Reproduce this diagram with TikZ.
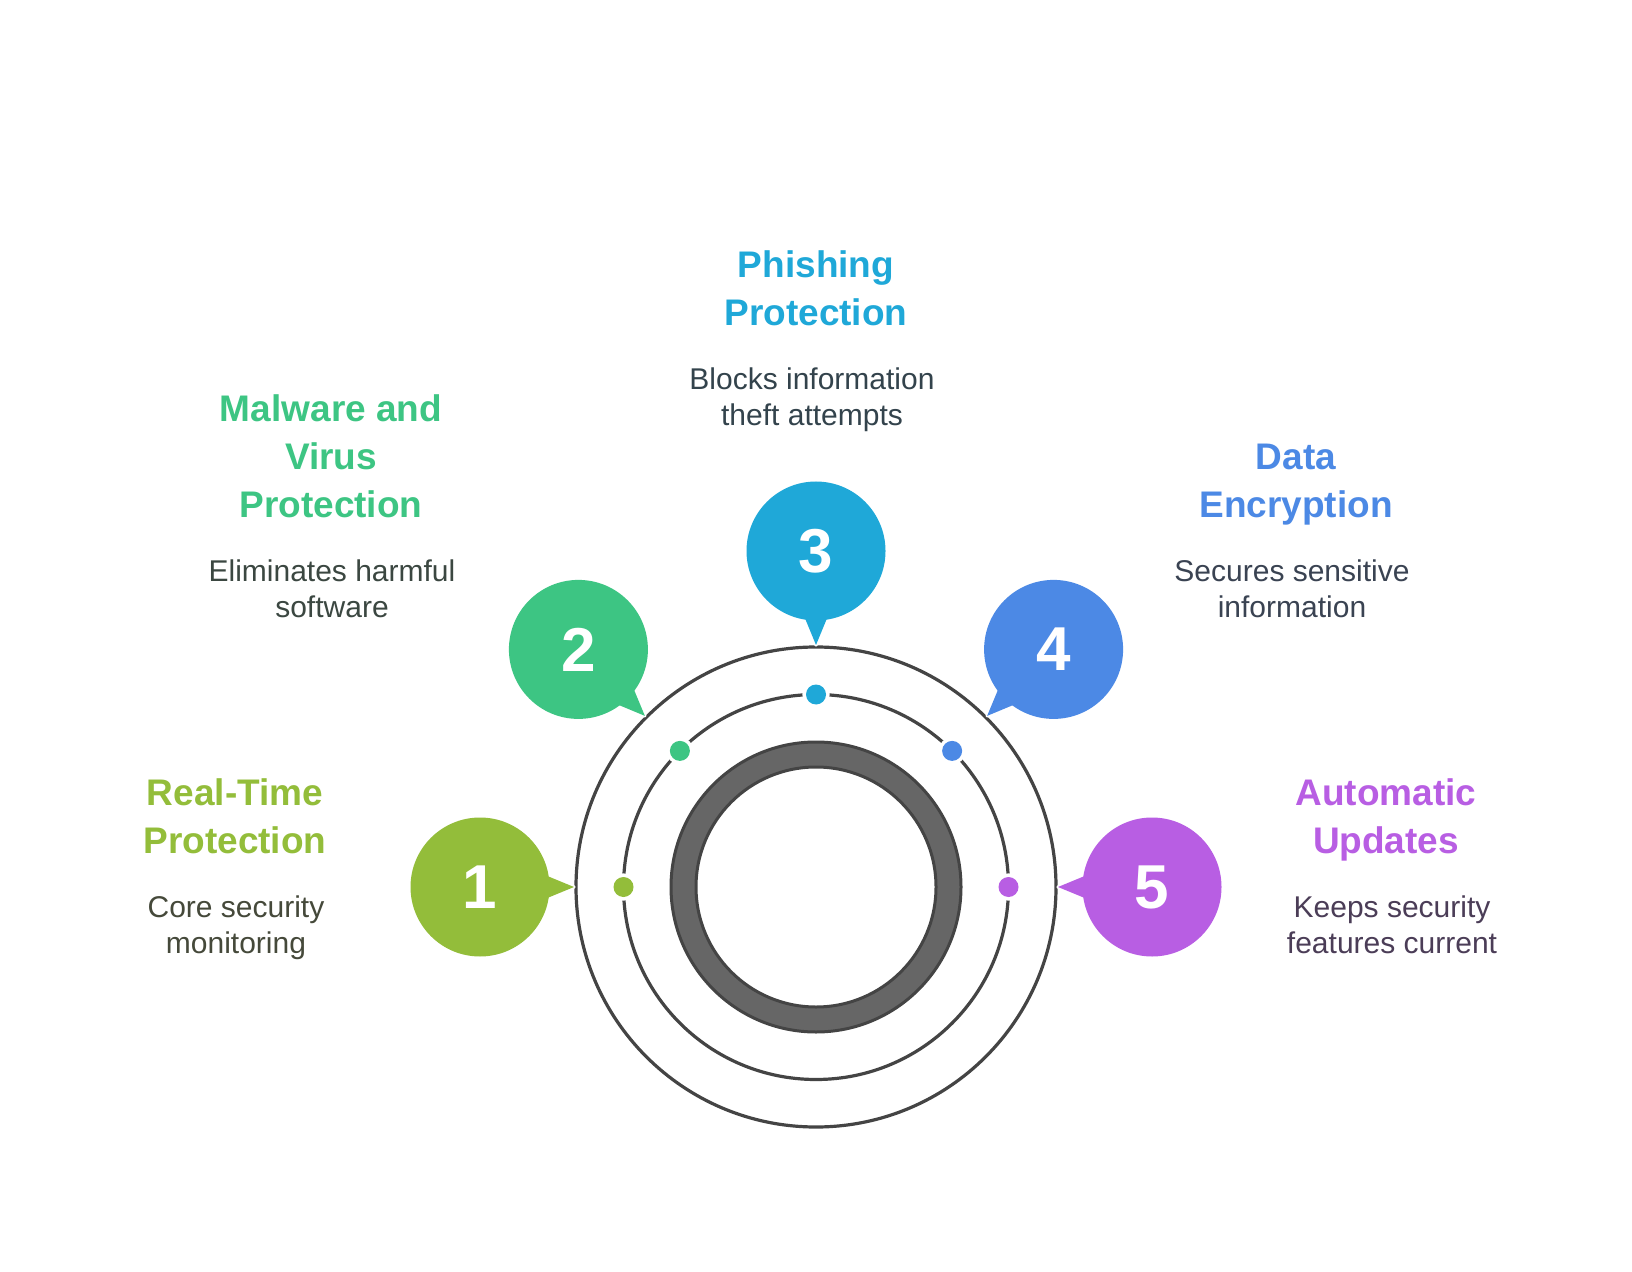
\documentclass[tikz,border=0pt]{standalone}
\usepackage{fontspec}
\setmainfont{Liberation Sans}
\usetikzlibrary{calc}
\definecolor{c1}{HTML}{93BD3A}
\definecolor{c2}{HTML}{3DC583}
\definecolor{c3}{HTML}{1FA8D8}
\definecolor{c4}{HTML}{4C89E5}
\definecolor{c5}{HTML}{B85EE3}
\definecolor{d1}{HTML}{45493A}
\definecolor{d2}{HTML}{3B4741}
\definecolor{d3}{HTML}{33434C}
\definecolor{d4}{HTML}{3A4352}
\definecolor{d5}{HTML}{4B3D57}
\definecolor{ringline}{HTML}{444444}
\definecolor{ringfill}{HTML}{666666}
\tikzset{
  titletext/.style={align=center,font=\fontsize{18.5pt}{24pt}\selectfont\bfseries,inner sep=0pt},
  desctext/.style={align=center,font=\fontsize{15pt}{18pt}\selectfont,inner sep=0pt},
  numtext/.style={text=white,font=\fontsize{31pt}{31pt}\selectfont\bfseries,inner sep=0pt},
  orbit/.style={draw=ringline,line width=1.6pt},
}
\begin{document}
\begin{tikzpicture}[x=0.5pt,y=-0.5pt]
\useasboundingbox[fill=white] (0,0) rectangle (1632,1272);
\coordinate (C) at (816,887);
% circles
\draw[orbit] (C) circle[radius=120pt];
\draw[orbit] (C) circle[radius=96.25pt];
\draw[draw=ringline,fill=ringfill,line width=1.5pt,even odd rule] (C) circle[radius=72.5pt] (C) circle[radius=60pt];
% dots and bubbles
\foreach \n/\phi/\col in {1/180/c1,2/135/c2,3/90/c3,4/45/c4,5/0/c5}{
  \coordinate (dot\n) at ($(C)+(-\phi:192.5)$);
  \fill[white] (dot\n) circle[radius=6.8pt];
  \fill[\col] (dot\n) circle[radius=5pt];
  \coordinate (tip\n) at ($(C)+(-\phi:242)$);
  \coordinate (bl\n) at ($(C)+(-\phi:276)+(-\phi+90:14)$);
  \coordinate (br\n) at ($(C)+(-\phi:276)+(-\phi-90:14)$);
  \coordinate (bc\n) at ($(C)+(-\phi:336)$);
  \draw[white,line width=1.6pt,line join=round] (bc\n) circle[radius=34.75pt];
  \draw[white,line width=1.6pt,line join=round] (tip\n) -- (bl\n) -- (br\n) -- cycle;
  \fill[\col] (bc\n) circle[radius=34.75pt];
  \fill[\col] (tip\n) -- (bl\n) -- (br\n) -- cycle;
  \node[numtext] (num\n) at (bc\n) {\n};
}
% titles and descriptions
\node[titletext,text=c1] (t1) at (235,816.5) {Real-Time\\Protection};
\node[desctext,text=d1] (s1) at (236,928) {Core security\\monitoring};
\node[titletext,text=c2] (t2) at (331,456) {Malware and\\Virus\\Protection};
\node[desctext,text=d2] (s2) at (332,588.5) {Eliminates harmful\\software};
\node[titletext,text=c3] (t3) at (816,288) {Phishing\\Protection};
\node[desctext,text=d3] (s3) at (812,399.5) {Blocks information\\theft attempts};
\node[titletext,text=c4] (t4) at (1296,485) {Data\\Encryption};
\node[desctext,text=d4] (s4) at (1292,588.5) {Secures sensitive\\information};
\node[titletext,text=c5] (t5) at (1386,819.5) {Automatic\\Updates};
\node[desctext,text=d5] (s5) at (1392,925) {Keeps security\\features current};
\end{tikzpicture}
\end{document}
